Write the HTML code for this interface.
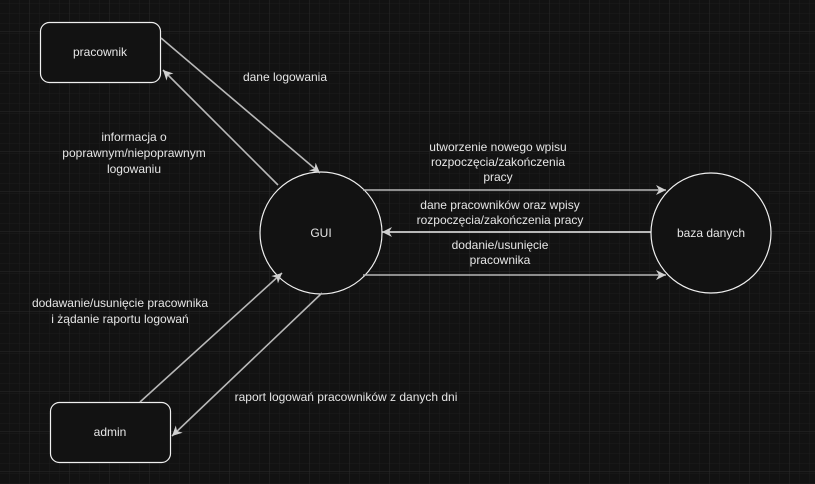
<!DOCTYPE html>
<html><head><meta charset="utf-8"><style>
html,body{margin:0;padding:0;background:#121212;}
svg{display:block;}
text{font-family:"Liberation Sans",sans-serif;font-size:12px;fill:#e6e6e6;text-anchor:middle;}
</style></head><body>
<svg width="815" height="484" viewBox="0 0 815 484" xmlns="http://www.w3.org/2000/svg">
<defs>
<pattern id="g" width="10" height="10" patternUnits="userSpaceOnUse" x="0" y="2">
<path d="M10 0V10M0 10H10" stroke="#1c1c1c" stroke-width="1" fill="none"/>
</pattern>
<pattern id="G" width="40" height="40" patternUnits="userSpaceOnUse" x="-10" y="-8">
<rect width="40" height="40" fill="url(#g)"/>
<path d="M40 0V40M0 40H40" stroke="#2a2a2a" stroke-width="1" fill="none"/>
</pattern>
<marker id="a" markerWidth="12" markerHeight="10" refX="10" refY="5" orient="auto" markerUnits="userSpaceOnUse">
<path d="M0 0L10 5L0 10L3 5Z" fill="#d0d0d0"/>
</marker>
</defs>
<rect width="815" height="484" fill="#121212"/>
<rect width="815" height="484" fill="url(#G)"/>
<g fill="#121212" stroke="#f0f0f0" stroke-width="1.2">
<rect x="40.5" y="22.5" width="120" height="60" rx="9"/>
<rect x="50.5" y="402.5" width="120" height="60" rx="9"/>
<circle cx="321" cy="233" r="61"/>
<circle cx="711" cy="233" r="60"/>
</g>
<g stroke="#b8b8b8" stroke-width="1.6" fill="none" marker-end="url(#a)">
<line x1="161" y1="38" x2="320" y2="173"/>
<line x1="278" y1="185" x2="163" y2="70"/>
<line x1="363" y1="190" x2="666" y2="190"/>
<line x1="363" y1="275" x2="666" y2="275"/>
<line x1="651" y1="232" x2="382" y2="232" stroke="#f0f0f0"/>
<line x1="140" y1="402" x2="282" y2="273"/>
<line x1="322" y1="293" x2="172" y2="436"/>
</g>
<text x="100" y="56">pracownik</text>
<text x="110" y="436">admin</text>
<text x="321" y="237">GUI</text>
<text x="711" y="237">baza danych</text>
<text x="285" y="81">dane logowania</text>
<text x="134" y="141">informacja o</text>
<text x="134" y="157">poprawnym/niepoprawnym</text>
<text x="134" y="173">logowaniu</text>
<text x="498" y="151">utworzenie nowego wpisu</text>
<text x="498" y="166">rozpoczęcia/zakończenia</text>
<text x="498" y="181">pracy</text>
<text x="500" y="209">dane pracowników oraz wpisy</text>
<text x="500" y="224">rozpoczęcia/zakończenia pracy</text>
<text x="500" y="249">dodanie/usunięcie</text>
<text x="500" y="264">pracownika</text>
<text x="120" y="307">dodawanie/usunięcie pracownika</text>
<text x="120" y="323">i żądanie raportu logowań</text>
<text x="346" y="401">raport logowań pracowników z danych dni</text>
</svg>
</body></html>
